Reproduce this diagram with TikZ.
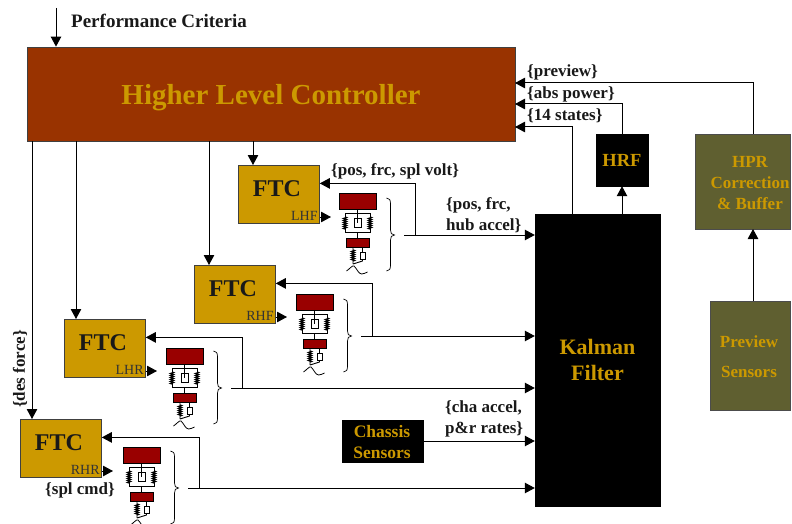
\documentclass[tikz,border=0pt]{standalone}
\usepackage{fontspec}
\setmainfont{Liberation Serif}
\usepackage{xcolor}
\usetikzlibrary{arrows.meta}
\usetikzlibrary{decorations.pathmorphing}
\definecolor{rust}{HTML}{993300}
\definecolor{gold}{HTML}{CC9900}
\definecolor{olive}{HTML}{5F5F30}
\definecolor{carred}{HTML}{990000}
\tikzset{
	feed/.style={-{Triangle[length=10pt,width=10.5pt]},line width=1pt},
	coil/.style={line width=1.2pt,decorate,decoration={zigzag,segment length=2pt,amplitude=1.5pt}},
	ctrl box/.style={draw=black!75,line width=0.8pt,fill=gold,minimum width=81pt,minimum height=58pt,inner sep=0pt},
	ftc text/.style={font=\fontsize{24}{24}\selectfont\bfseries,text=black!90},
	ftc tag/.style={font=\fontsize{14}{14}\selectfont,inner sep=1pt,text=black!80},
	black box/.style={draw=black,fill=black,text=gold,align=center,inner sep=0pt,font=\bfseries},
	olive box/.style={draw=black!70,line width=0.8pt,fill=olive,text=gold,align=center,inner sep=0pt,font=\fontsize{17}{21}\selectfont\bfseries},
	sig/.style={font=\fontsize{17}{21}\selectfont\bfseries,inner sep=0pt,align=left,anchor=west,text=black!90},
	car/.pic={
		\draw[line width=0.9pt,fill=carred] (-18.5,0) rectangle (18.5,16);
		\draw[line width=0.9pt] (0,16) -- (0,20) (-12.5,20) rectangle (12.5,39) (0,39) -- (0,45);
		\draw[line width=0.9pt,fill=carred] (-11.5,45) rectangle (11.5,54);
		\draw[line width=0.9pt,fill=white] (-3.5,25) rectangle (3.5,34);
		\draw[line width=1.4pt] (0,20) -- (0,30);
		\draw[coil] (12.5,24) -- (12.5,36);
		\draw[coil] (-12.5,24) -- (-12.5,36);
		\draw[line width=0.9pt] (-4.5,54) -- (-4.5,71) (5,54) -- (5,68) -- (-4.5,71);
		\draw[line width=0.9pt,fill=white] (2.5,59) rectangle (7.5,66);
		\draw[coil] (-4.5,57) -- (-4.5,68);
		\draw[line width=0.8pt] (-11,78) .. controls (-8,76) and (-5,72) .. (-3.5,73) .. controls (-1,75) and (1,81) .. (4,81) .. controls (6,81) and (8,80) .. (10,79);
	},
	brace/.pic={
		\draw[line width=0.7pt] (29,5) .. controls (32,5) and (33,7) .. (33,11) -- (33,37) .. controls (33,40) and (34,42) .. (37,42) .. controls (34,42) and (33,44) .. (33,47) -- (33,72) .. controls (33,76) and (32,78) .. (29,78);
	}
}

\begin{document}
\begin{tikzpicture}[x=1pt,y=-1pt]
	\clip (0,0) rectangle (792,524);
	\node [draw=black!75,line width=0.8pt,fill=rust,minimum width=488pt,minimum height=94pt,inner sep=0pt] (hlc) at (271,94) {};
	\node [text=gold,inner sep=0pt,font=\fontsize{29}{29}\selectfont\bfseries] (hlctext) at (271,98) {Higher Level Controller};
	\node [black box,minimum width=125pt,minimum height=292pt,font=\fontsize{22}{26}\selectfont\bfseries] (kalman) at (597.5,360) {Kalman\\Filter};
	\node [black box,minimum width=52pt,minimum height=52pt,font=\fontsize{18.5}{18.5}\selectfont\bfseries] (hrf) at (622,160) {HRF};
	\node [black box,minimum width=81pt,minimum height=42pt] (chassis) at (382.5,441) {};
	\node [text=gold,align=center,inner sep=0pt,font=\fontsize{17.5}{21}\selectfont\bfseries] (chassistext) at (382,442) {Chassis\\Sensors};
	\node [olive box,minimum width=95pt,minimum height=95pt] (hpr) at (742.5,181.5) {};
	\node [text=gold,align=center,inner sep=0pt,font=\fontsize{17}{21}\selectfont\bfseries] (hprtext) at (750,183.5) {HPR\\Correction\\\& Buffer};
	\node [olive box,minimum width=80pt,minimum height=109pt] (previewsens) at (750,355.5) {};
	\node [text=gold,align=center,inner sep=0pt,font=\fontsize{17}{30}\selectfont\bfseries] (previewtext) at (749,356.5) {Preview\\Sensors};
	\coordinate (perf) at (56,8);
	\draw[feed] (perf) -- (perf |- hlc.north);
	\node [sig,font=\fontsize{19}{21}\selectfont\bfseries] (perflabel) at (71,21) {Performance Criteria};

	\foreach \name/\tag/\fx/\fy/\dropx/\cx/\cy/\by in {lhf/LHF/238/165/15/357.5/193/193,rhf/RHF/194/265/15/314.5/294/294,lhr/LHR/64/319/12/184.5/348/346,rhr/RHR/20/419/12/141.5/447/446} {
		\node [ctrl box,anchor=north west] (ftc\name) at (\fx,\fy) {};
		\node [ftc text] (ftctext\name) at ([xshift=-2pt,yshift=6pt]ftc\name.center) {FTC};
		\node [ftc tag,anchor=south east] (tag\name) at ([xshift=-1pt,yshift=2pt]ftc\name.south east) {\tag};
		\pic at (\cx,\cy) {car};
		\pic at (\cx,\by) {brace};
		% taps on the brace tip
		\coordinate (tap\name) at (\cx+46.5,\by+42);
		\coordinate (jct\name) at (\cx+57.5,\by+42);
		\coordinate (cmd\name) at (\fx+93,\fy+52);
		\coordinate (drop\name) at (\fx+\dropx,\fy);
		\draw[feed] (drop\name |- hlc.south) -- (drop\name);
		\draw[feed] (tap\name) -- (tap\name -| kalman.west);
		\draw[feed] (jct\name) |- ([yshift=11pt]ftc\name.east);
		\draw[feed] (cmd\name -| ftc\name.east) -- (cmd\name);
	}

	\draw[feed] (chassis) -- (chassis -| kalman.west);
	\coordinate (hprfeed) at (753,229);
	\draw[feed] (hprfeed |- previewsens.north) -- (hprfeed);
	\draw[feed] (hrf |- kalman.north) -- (hrf);
	\coordinate (fromkalman) at (572,214);
	\coordinate (stateport) at (515,127);
	\coordinate (absport) at (515,104);
	\coordinate (prevport) at (515,83);
	\draw[feed] (fromkalman) |- (stateport);
	\draw[feed] (hrf.north) |- (absport);
	\draw[feed] (hprfeed |- hpr.north) |- (prevport);

	\node [sig] (prevlabel) at (527,72) {\{preview\}};
	\node [sig] (abslabel) at (527,94) {\{abs power\}};
	\node [sig] (statelabel) at (527,116) {\{14 states\}};
	\node [sig] (voltlabel) at (331,171) {\{pos, frc, spl volt\}};
	\node [sig] (accellabel) at (446,215) {\{pos, frc,\\hub accel\}};
	\node [sig] (chalabel) at (445,419) {\{cha accel,\\p\&r rates\}};
	\node [sig] (cmdlabel) at (45,490) {\{spl cmd\}};
	\node [sig,rotate=90,anchor=center] (forcelabel) at (20,369) {\{des force\}};
\end{tikzpicture}
\end{document}
